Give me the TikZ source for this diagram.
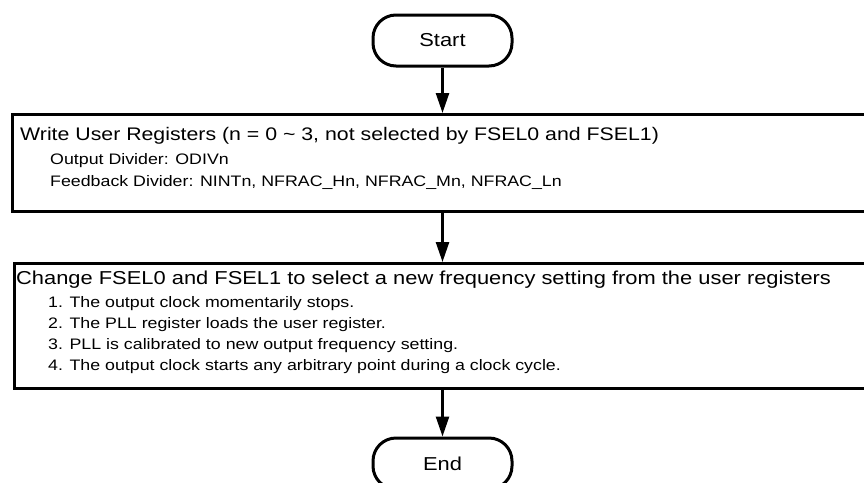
\documentclass[tikz,border=0pt]{standalone}
\usepackage{fontspec}
\setmainfont{Liberation Sans}
\newfontfamily\widesans[FakeStretch=1.17]{Liberation Sans}
\usetikzlibrary{arrows.meta}
\begin{document}
\begin{tikzpicture}[x=1pt,y=-1pt,
  term/.style={draw, line width=3pt, rounded corners=23pt, minimum width=139pt, minimum height=51pt, inner sep=0pt, font=\widesans\fontsize{18.7}{20}\selectfont},
  procbox/.style={draw, line width=3.2pt, anchor=north west, inner sep=0pt},
  head/.style={anchor=west, inner sep=0pt, font=\widesans\fontsize{18.7}{20}\selectfont},
  item/.style={anchor=west, inner sep=0pt, font=\widesans\fontsize{15.2}{16}\selectfont},
  flow/.style={line width=2.5pt, -{Triangle[length=20pt,width=13pt]}}]
\useasboundingbox (0,0) rectangle (864,482);
\clip (0,0) rectangle (864,482);
\node[term] (start) at (442.5,40.5) {Start};
\node[procbox, minimum width=880pt, minimum height=97pt] (b1) at (10.5,113) {};
\node[head, font=\widesans\fontsize{18.2}{20}\selectfont] (t1) at (20,136) {Write User Registers (n = 0 \textasciitilde{} 3, not selected by FSEL0 and FSEL1)};
\node[item] (t1a) at (50,161) {Output Divider: ODIVn};
\node[item] (t1b) at (50,182) {Feedback Divider: NINTn, NFRAC\_Hn, NFRAC\_Mn, NFRAC\_Ln};
\node[procbox, minimum width=880pt, minimum height=125pt] (b2) at (12.5,262) {};
\node[head] (t2) at (16,280) {Change FSEL0 and FSEL1 to select a new frequency setting from the user registers};
\node[item] (t2a) at (48,304) {1. The output clock momentarily stops.};
\node[item] (t2b) at (48,325) {2. The PLL register loads the user register.};
\node[item] (t2c) at (48,346) {3. PLL is calibrated to new output frequency setting.};
\node[item] (t2d) at (48,367) {4. The output clock starts any arbitrary point during a clock cycle.};
\node[term] (end) at (442.5,463.5) {End};
\draw[flow] (start.south) -- (start.south |- b1.north);
\draw[flow] (start.south |- b1.south) -- (start.south |- b2.north);
\draw[flow] (start.south |- b2.south) -- (end.north);
\end{tikzpicture}
\end{document}
